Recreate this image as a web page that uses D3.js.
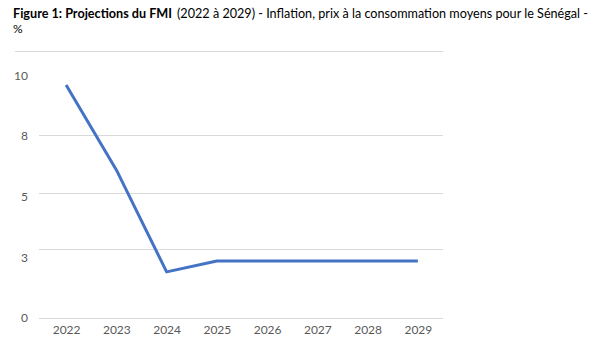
<!DOCTYPE html>
<html>
<head>
<meta charset="utf-8">
<script src="https://cdn.jsdelivr.net/npm/d3@7"></script>
<style>
  html, body { margin: 0; padding: 0; background: #fff; }
  svg { display: block; }
</style>
</head>
<body>
<svg id="chart" width="600" height="356"></svg>
<script>
// ---- Data ----
const years = ["2022", "2023", "2024", "2025", "2026", "2027", "2028", "2029"];
const inflation = [9.6, 6.1, 1.9, 2.35, 2.35, 2.35, 2.35, 2.35];
const yTickValues = [0, 2.5, 5, 7.5, 10];
const yTickLabels = ["0", "3", "5", "8", "10"];
const gridValues = [0, 2.85, 5.15, 7.55, 11];
const titleBold = "Figure 1: Projections du FMI";
const titleRest = "(2022 à 2029) - Inflation, prix à la consommation moyens pour le Sénégal -";
const titleLine2 = "%";

// ---- Layout ----
const svg = d3.select("#chart");
const font = "Lato, 'Open Sans', sans-serif";

const x = d3.scalePoint().domain(years).range([41, 443]).padding(0.5);
const y = d3.scaleLinear().domain([0, 11]).range([318, 51]);

// Title
function fitText(sel, width) {
  sel.attr("textLength", width).attr("lengthAdjust", "spacingAndGlyphs");
}
const t1 = svg.append("text").attr("x", 13).attr("y", 18)
  .attr("font-family", font).attr("font-size", 13).attr("font-weight", "bold")
  .attr("fill", "#000").text(titleBold);
fitText(t1, 159);
const t2 = svg.append("text").attr("x", 177).attr("y", 18)
  .attr("font-family", font).attr("font-size", 13)
  .attr("fill", "#000").text(titleRest);
fitText(t2, 411);
svg.append("text").attr("x", 13).attr("y", 33)
  .attr("font-family", font).attr("font-size", 12)
  .attr("fill", "#000").text(titleLine2);

// Gridlines
svg.append("g").selectAll("line").data(gridValues).join("line")
  .attr("x1", (d, i) => i === gridValues.length - 1 ? 15 : 39)
  .attr("x2", 443)
  .attr("y1", d => Math.round(y(d)) + 0.5)
  .attr("y2", d => Math.round(y(d)) + 0.5)
  .attr("stroke", "#d9d9d9").attr("stroke-width", 1.2);

// Y axis labels
const yAxis = d3.axisLeft(y).tickValues(yTickValues)
  .tickFormat((d, i) => yTickLabels[i]).tickSize(0).tickPadding(0);
const gy = svg.append("g").attr("transform", "translate(28,0)").call(yAxis);
gy.select(".domain").remove();
gy.selectAll("text").attr("font-family", font).attr("font-size", 12).attr("fill", "#595959");

// X axis labels
const xAxis = d3.axisBottom(x).tickSize(0).tickPadding(0);
const gx = svg.append("g").attr("transform", "translate(0,325)").call(xAxis);
gx.select(".domain").remove();
gx.selectAll("text").attr("font-family", font).attr("font-size", 12).attr("fill", "#595959");

// Line
const line = d3.line().x((d, i) => x(years[i])).y(d => y(d));
svg.append("path").datum(inflation)
  .attr("d", line)
  .attr("fill", "none")
  .attr("stroke", "#4472C4")
  .attr("stroke-width", 3)
  .attr("stroke-linejoin", "round");
</script>
</body>
</html>
